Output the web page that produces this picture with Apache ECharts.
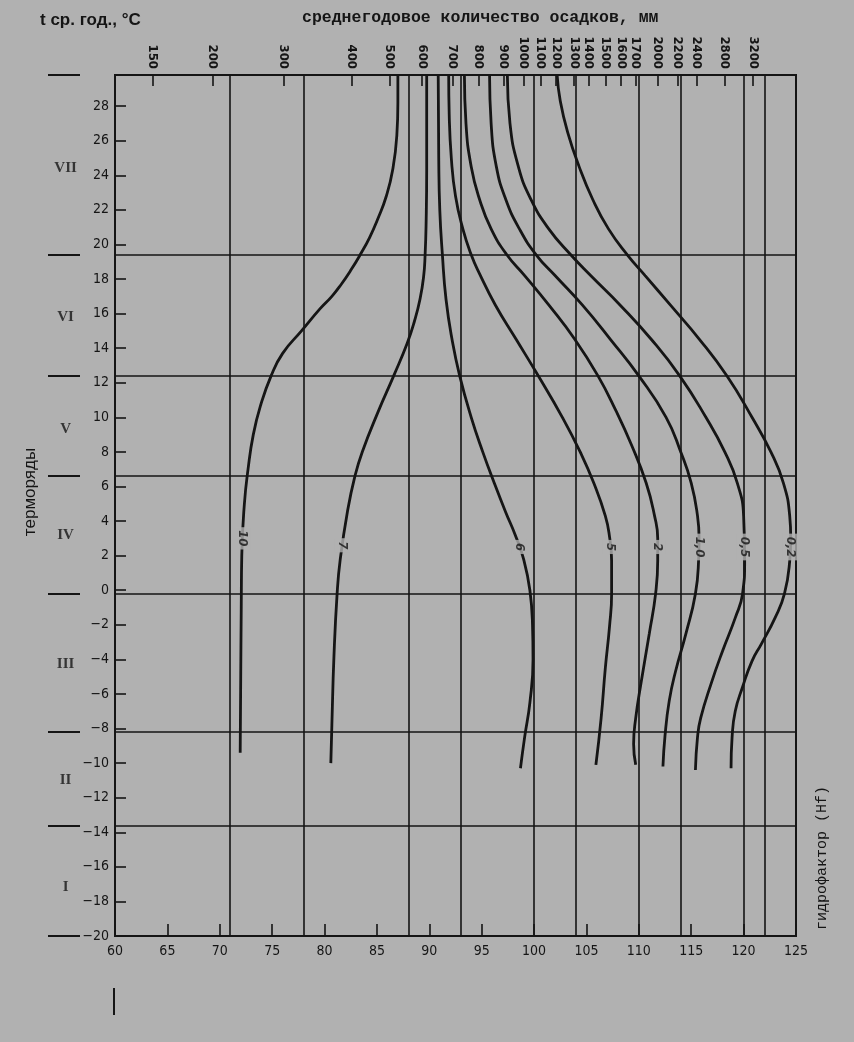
<!DOCTYPE html>
<html><head><meta charset="utf-8">
<script src="https://cdn.jsdelivr.net/npm/echarts@6/dist/echarts.min.js"></script>
<style>html,body{margin:0;padding:0;background:#b1b1b1;}#c{width:854px;height:1042px;}</style>
</head><body><div id="c"></div>
<script>
// ---- data ----
const curveNames = ['10', '7', '6', '5', '2', '1,0', '0,5', '0,2'];
const curve10 = [[71.95,-9.4],[72.0,-5],[72.05,-1],[72.1,2],[72.35,5],[72.7,7],[73.2,9],[73.9,10.7],[74.9,12.4],[76.0,13.7],[77.8,15.0],[79.6,16.3],[80.7,17.0],[81.6,17.7],[82.5,18.5],[83.4,19.4],[84.3,20.4],[85.1,21.5],[85.9,22.8],[86.5,24.3],[86.9,26.3],[87.0,28.2],[87.0,29.8]];
const curve7 = [[80.6,-10],[80.7,-7.8],[80.9,-3.8],[81.2,-0.2],[81.5,1.8],[82.2,4.6],[82.9,6.6],[83.6,8.0],[85.1,10.3],[86.6,12.4],[87.9,14.3],[88.6,15.6],[89.1,16.8],[89.45,18.1],[89.6,19.4],[89.7,21.4],[89.75,24.3],[89.75,29.8]];
const curve6 = [[98.7,-10.3],[99.1,-8.5],[99.6,-6.5],[99.9,-4],[99.85,-2],[99.6,0],[99.0,1.8],[98.2,3.2],[97.3,4.5],[96.2,6.2],[95.1,8],[94.0,10],[92.9,12.4],[92.2,14.4],[91.6,16.8],[91.25,19.4],[91.0,22],[90.9,25],[90.85,29.8]];
const curve5 = [[105.9,-10.1],[106.4,-7.4],[106.8,-4.5],[107.2,-2.1],[107.4,-0.2],[107.4,1.7],[107.2,3.1],[106.8,4.3],[105.7,6.2],[104.4,8],[102.7,10],[100.4,12.4],[98.3,14.5],[96.3,16.5],[94.8,18.3],[94.0,19.4],[93.2,20.9],[92.5,22.8],[92.1,25],[91.9,27.5],[91.85,29.8]];
const curve2 = [[109.7,-10.1],[109.5,-8.9],[109.7,-7.4],[110.2,-5.4],[111.0,-2.5],[111.6,-0.2],[111.8,1.7],[111.8,3],[111.5,4.3],[110.7,6.2],[109.3,8.4],[107.8,10.4],[106.1,12.4],[103.9,14.5],[101.4,16.5],[99.1,18.2],[97.4,19.4],[95.9,20.9],[94.8,22.6],[94.0,24.5],[93.5,27],[93.35,29.8]];
const curve1 = [[112.3,-10.2],[112.5,-8.4],[112.9,-6.4],[113.5,-4.7],[114.5,-2.5],[115.4,-0.2],[115.7,1.7],[115.75,3],[115.6,4.3],[115.0,6.2],[114.0,8],[112.6,10],[110.0,12.4],[107.3,14.5],[104.6,16.5],[102.0,18.2],[100.2,19.4],[98.6,20.9],[97.3,22.6],[96.4,24.5],[95.9,27],[95.75,29.8]];
const curve05 = [[115.4,-10.4],[115.6,-8.5],[115.9,-7.4],[116.9,-5.4],[118.0,-3.5],[119.2,-1.6],[119.9,-0.2],[120.1,1.7],[120.0,4.3],[119.4,6.2],[118.2,8],[116.4,10],[113.9,12.4],[111.2,14.5],[108.2,16.5],[105.4,18.2],[103.5,19.4],[101.4,20.9],[99.7,22.6],[98.5,24.5],[97.7,27],[97.45,29.8]];
const curve02 = [[118.8,-10.3],[118.9,-8.5],[119.2,-7],[119.9,-5.6],[120.8,-4.1],[121.7,-3.1],[123.0,-1.6],[123.9,-0.2],[124.4,1.7],[124.5,3],[124.4,4.3],[123.8,6.2],[122.6,8],[120.8,10],[118.4,12.4],[115.8,14.5],[113.0,16.5],[110.6,18.2],[108.9,19.4],[107.1,20.9],[105.6,22.6],[104.3,24.5],[103.2,26.5],[102.5,28.3],[102.2,29.8]];
const curves = [curve10, curve7, curve6, curve5, curve2, curve1, curve05, curve02];
const curveLabelT = [3.0, 2.6, 2.5, 2.5, 2.5, 2.5, 2.5, 2.5];

const zoneBounds = [19.4, 12.4, 6.6, -0.2, -8.2, -13.6];
const zoneTicks = [29.8, 19.4, 12.4, 6.6, -0.2, -8.2, -13.6, -20];
const zoneNames = ['VII', 'VI', 'V', 'IV', 'III', 'II', 'I'];
const zoneLabelT = [24.4, 15.8, 9.3, 3.2, -4.3, -11.0, -17.2];
const hfLines = [71, 78, 88, 93, 100, 104, 110, 114, 120, 122];

const precipLabels = ['150','200','300','400','500','600','700','800','900','1000','1100','1200','1300','1400','1500','1600','1700','2000','2200','2400','2800','3200'];
const precipPos = [63.6,69.3,76.1,82.6,86.2,89.3,92.2,94.7,97.1,99.0,100.6,102.1,103.8,105.2,106.8,108.3,109.7,111.8,113.7,115.5,118.2,120.9];

// ---- helpers ----
function vAt(curve, t) {
  for (let i = 0; i < curve.length - 1; i++) {
    const a = curve[i], b = curve[i + 1];
    if ((a[1] - t) * (b[1] - t) <= 0) {
      const f = (t - a[1]) / (b[1] - a[1] || 1);
      return a[0] + f * (b[0] - a[0]);
    }
  }
  return curve[0][0];
}
const BG = '#b1b1b1', INK = '#151515';
const numFont = '"DejaVu Sans Condensed","Liberation Sans Narrow","Liberation Sans",sans-serif';

const chart = echarts.init(document.getElementById('c'));
const series = [];
series.push({
  type: 'scatter', xAxisIndex: 0, yAxisIndex: 0, data: [[60, -20]], symbolSize: 0, silent: true,
  markLine: {
    silent: true, symbol: 'none', label: {show: false},
    lineStyle: {color: INK, width: 1.6, type: 'solid'},
    data: zoneBounds.map(v => ({yAxis: v})).concat(hfLines.map(v => ({xAxis: v})))
  }
});
curves.forEach((c, i) => {
  series.push({
    name: curveNames[i], type: 'line', xAxisIndex: 0, yAxisIndex: 0, data: c,
    smooth: 0.5, showSymbol: false, silent: true, z: 5,
    lineStyle: {color: INK, width: 2.8}
  });
});
series.push({
  type: 'scatter', xAxisIndex: 0, yAxisIndex: 0, z: 10, symbolSize: 0, silent: true,
  data: curves.map((c, i) => [vAt(c, curveLabelT[i]), curveLabelT[i], curveNames[i]]),
  label: {
    show: true, position: 'inside', rotate: -90, formatter: p => p.data[2],
    color: INK, fontSize: 13, fontStyle: 'italic', fontWeight: 'bold', fontFamily: numFont,
    backgroundColor: BG, padding: [1, 3]
  }
});
series.push({
  type: 'scatter', xAxisIndex: 2, yAxisIndex: 1, data: [[0.5, -20]], symbolSize: 0, silent: true,
  markLine: {
    silent: true, symbol: 'none', label: {show: false},
    lineStyle: {color: INK, width: 2, type: 'solid'},
    data: zoneTicks.map(v => ({yAxis: v}))
  }
});
series.push({
  type: 'scatter', xAxisIndex: 2, yAxisIndex: 1, symbolSize: 0, silent: true,
  data: zoneNames.map((n, i) => [0.55, zoneLabelT[i], n]),
  label: {show: true, position: 'inside', formatter: p => p.data[2], color: INK,
    fontSize: 15, fontWeight: 'bold', fontFamily: '"Liberation Serif","DejaVu Serif",serif'}
});

chart.setOption({
  backgroundColor: BG,
  animation: false,
  grid: [
    {left: 115, right: 58, top: 75, bottom: 106, show: true, borderColor: INK, borderWidth: 2, backgroundColor: 'transparent'},
    {left: 48, width: 32, top: 75, bottom: 106}
  ],
  xAxis: [
    {gridIndex: 0, type: 'value', position: 'bottom', min: 60, max: 125, interval: 5,
      axisLine: {show: true, onZero: false, lineStyle: {color: INK, width: 2}},
      axisTick: {show: true, inside: true, length: 12, lineStyle: {color: INK, width: 1.6}},
      axisLabel: {color: INK, fontSize: 14, margin: 8, fontFamily: numFont},
      splitLine: {show: false}},
    {gridIndex: 0, type: 'value', position: 'top', min: 60, max: 125,
      axisLine: {show: true, onZero: false, lineStyle: {color: INK, width: 2}},
      axisTick: {show: true, inside: true, length: 11, customValues: precipPos, lineStyle: {color: INK, width: 1.6}},
      axisLabel: {show: true, rotate: 90, margin: 6, customValues: precipPos, color: INK, fontSize: 13, fontWeight: 'bold', fontFamily: numFont,
        formatter: v => { let k = 0, d = 1e9; precipPos.forEach((p, i) => { if (Math.abs(p - v) < d) { d = Math.abs(p - v); k = i; } }); return precipLabels[k]; }},
      splitLine: {show: false}},
    {gridIndex: 1, type: 'value', min: 0, max: 1, show: false}
  ],
  yAxis: [
    {gridIndex: 0, type: 'value', min: -20, max: 29.8, interval: 2,
      axisLine: {show: true, onZero: false, lineStyle: {color: INK, width: 2}},
      axisTick: {show: true, inside: true, length: 11, lineStyle: {color: INK, width: 1.6}},
      axisLabel: {color: INK, fontSize: 14, margin: 6, fontFamily: numFont, showMaxLabel: false,
        formatter: v => (Math.abs(v - 29.8) < 0.01 ? '' : String(v).replace('-', '\u2212'))},
      splitLine: {show: false}},
    {gridIndex: 1, type: 'value', min: -20, max: 29.8, show: false}
  ],
  graphic: [
    {type: 'text', left: 40, top: 12, style: {text: 't ср. год., °C', fill: INK, font: 'bold 17px "Liberation Sans", sans-serif'}},
    {type: 'text', left: 302, top: 9, style: {text: 'среднегодовое количество осадков, мм', fill: INK, font: 'bold 16.5px "Liberation Mono", monospace'}},
    {type: 'text', x: 30, y: 492, rotation: Math.PI / 2, style: {text: 'терморяды', fill: INK, font: '17px "Liberation Sans", sans-serif', align: 'center', verticalAlign: 'middle'}},
    {type: 'text', x: 822, y: 858, rotation: Math.PI / 2, style: {text: 'гидрофактор (Hf)', fill: INK, font: '15px "Liberation Mono", monospace', align: 'center', verticalAlign: 'middle'}},
    {type: 'line', shape: {x1: 114, y1: 988, x2: 114, y2: 1015}, style: {stroke: INK, lineWidth: 2}}
  ],
  series: series
});
</script></body></html>
